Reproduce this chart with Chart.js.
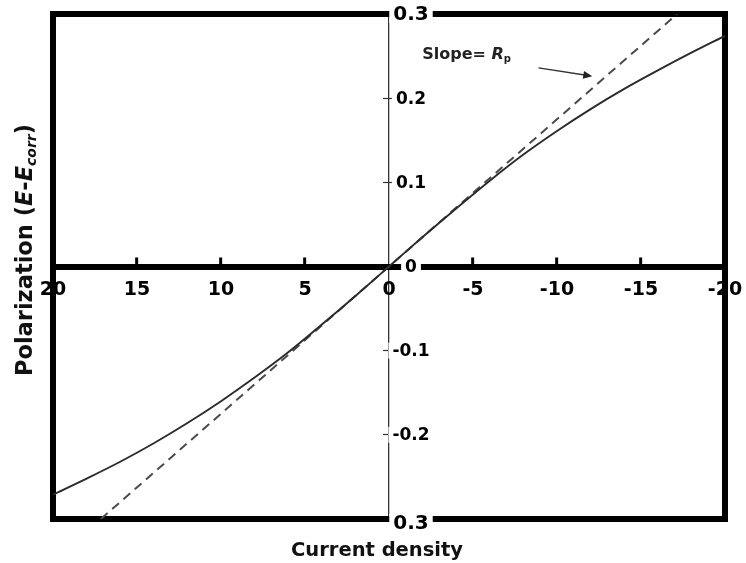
<!DOCTYPE html>
<html>
<head>
<meta charset="utf-8">
<script src="https://cdn.jsdelivr.net/npm/chart.js@4.4.1/dist/chart.umd.min.js"></script>
<style>
  html, body { margin: 0; padding: 0; background: #fff; }
  #wrap { width: 746px; height: 563px; }
</style>
</head>
<body>
<div id="wrap"><canvas id="chart"></canvas></div>
<script>
// polarization curve: current density (reversed x axis) vs E-Ecorr
const currentDensity = [20, 18, 16, 14, 12, 10, 8, 6, 4, 2, 0, -2, -4, -6, -8, -10, -12, -14, -16, -18, -20];
const polarization = [-0.271, -0.252, -0.232, -0.210, -0.186, -0.160, -0.132, -0.102, -0.069, -0.035, 0,
  0.035, 0.069, 0.102, 0.133, 0.161, 0.187, 0.211, 0.233, 0.254, 0.274];

// tangent at the origin (slope = Rp)
const slopeX = [17.15, -17.15];
const slopeY = [-0.3, 0.3];

const xTickValues = [20, 15, 10, 5, 0, -5, -10, -15, -20];
const xTickLabels = ["20", "15", "10", "5", "0", "-5", "-10", "-15", "-20"];
const yTickValues = [0.3, 0.2, 0.1, 0, -0.1, -0.2, -0.3];
const yTickLabels = ["0.3", "0.2", "0.1", "0", "-0.1", "-0.2", "0.3"];

const FONT = "'DejaVu Sans', 'Liberation Sans', sans-serif";
const CLEAR = "rgba(0,0,0,0)";

function xLabel(value) {
  const i = xTickValues.findIndex((v) => Math.abs(v - value) < 1e-6);
  return i >= 0 ? xTickLabels[i] : "";
}

// texte avec plusieurs styles, de gauche a droite
function richWidth(ctx, parts) {
  let w = 0;
  parts.forEach((p) => {
    ctx.font = p.font;
    w += ctx.measureText(p.text).width;
  });
  return w;
}
function drawRich(ctx, parts, x, y) {
  let cx = x;
  parts.forEach((p) => {
    ctx.font = p.font;
    ctx.fillText(p.text, cx, y + (p.dy || 0));
    cx += ctx.measureText(p.text).width;
  });
}

const decorPlugin = {
  id: "decor",
  beforeDatasetsDraw(chart) {
    const { ctx, chartArea } = chart;
    ctx.save();
    ctx.strokeStyle = "#000";
    ctx.lineWidth = 6;
    ctx.strokeRect(chartArea.left, chartArea.top, chartArea.right - chartArea.left, chartArea.bottom - chartArea.top);
    ctx.restore();
  },
  afterDraw(chart) {
    const { ctx } = chart;
    const xs = chart.scales.x;
    const ys = chart.scales.y;
    const axisX = xs.getPixelForValue(0);

    // y tick labels, right of the vertical axis, on a white backdrop
    ctx.save();
    ctx.textAlign = "center";
    ctx.textBaseline = "middle";
    yTickValues.forEach((v, i) => {
      const big = i === 0 || i === yTickValues.length - 1;
      ctx.font = "bold " + (big ? 20 : 17) + "px " + FONT;
      const label = yTickLabels[i];
      const w = ctx.measureText(label).width;
      const h = big ? 16 : 14;
      const cx = axisX + 22;
      const cy = ys.getPixelForValue(v) + (i === yTickValues.length - 1 ? 4 : 0);
      ctx.fillStyle = "#fff";
      ctx.fillRect(cx - w / 2 - 4, cy - h / 2 - 1, w + 8, h + 2);
      ctx.fillStyle = "#000";
      ctx.fillText(label, cx, cy + 1);
    });
    ctx.restore();

    // axis titles
    ctx.save();
    ctx.fillStyle = "#111";
    ctx.textBaseline = "alphabetic";
    ctx.textAlign = "center";
    ctx.font = "bold 19.5px " + FONT;
    ctx.fillText("Current density", 377, 556);

    ctx.textAlign = "left";
    const yTitle = [
      { text: "Polarization (", font: "bold 22.5px " + FONT },
      { text: "E", font: "italic bold 22.5px " + FONT },
      { text: "-", font: "bold 22.5px " + FONT },
      { text: "E", font: "italic bold 22.5px " + FONT },
      { text: "corr", font: "italic bold 14px " + FONT, dy: 4 },
      { text: ")", font: "bold 22.5px " + FONT },
    ];
    ctx.translate(32, 250);
    ctx.rotate(-Math.PI / 2);
    drawRich(ctx, yTitle, -richWidth(ctx, yTitle) / 2, 0);
    ctx.restore();

    // annotation "Slope= Rp" with arrow
    ctx.save();
    ctx.fillStyle = "#222";
    ctx.textAlign = "left";
    ctx.textBaseline = "alphabetic";
    drawRich(ctx, [
      { text: "Slope= ", font: "bold 16px " + FONT },
      { text: "R", font: "italic bold 16px " + FONT },
      { text: "p", font: "bold 10px " + FONT, dy: 3 },
    ], xs.getPixelForValue(-1.98), ys.getPixelForValue(0.247));

    const ax1 = xs.getPixelForValue(-8.9), ay1 = ys.getPixelForValue(0.236);
    const ax2 = xs.getPixelForValue(-12.1), ay2 = ys.getPixelForValue(0.226);
    const ang = Math.atan2(ay2 - ay1, ax2 - ax1);
    ctx.strokeStyle = "#333";
    ctx.fillStyle = "#222";
    ctx.lineWidth = 1.5;
    ctx.beginPath();
    ctx.moveTo(ax1, ay1);
    ctx.lineTo(ax2 - 6 * Math.cos(ang), ay2 - 6 * Math.sin(ang));
    ctx.stroke();
    ctx.beginPath();
    ctx.moveTo(ax2, ay2);
    ctx.lineTo(ax2 - 9 * Math.cos(ang) + 4 * Math.sin(ang), ay2 - 9 * Math.sin(ang) - 4 * Math.cos(ang));
    ctx.lineTo(ax2 - 9 * Math.cos(ang) - 4 * Math.sin(ang), ay2 - 9 * Math.sin(ang) + 4 * Math.cos(ang));
    ctx.closePath();
    ctx.fill();
    ctx.restore();
  },
};

new Chart(document.getElementById("chart"), {
  type: "line",
  data: {
    datasets: [
      {
        label: "Polarization",
        data: currentDensity.map((x, i) => ({ x: x, y: polarization[i] })),
        borderColor: "#2b2b2b",
        borderWidth: 1.9,
        pointRadius: 0,
        cubicInterpolationMode: "monotone",
        fill: false,
        order: 1,
      },
      {
        label: "Slope",
        data: slopeX.map((x, i) => ({ x: x, y: slopeY[i] })),
        borderColor: "#4a4a4a",
        borderWidth: 2,
        borderDash: [9, 6],
        pointRadius: 0,
        fill: false,
        order: 2,
      },
    ],
  },
  options: {
    responsive: true,
    maintainAspectRatio: false,
    animation: false,
    devicePixelRatio: 1,
    layout: { padding: { left: 53, right: 21, top: 14, bottom: 44 } },
    plugins: {
      legend: { display: false },
      tooltip: { enabled: false },
    },
    scales: {
      x: {
        type: "linear",
        min: -20,
        max: 20,
        reverse: true,
        position: { y: 0 },
        // pas de marge supplementaire pour les etiquettes extremes
        afterFit: (scale) => {
          scale.paddingLeft = 0;
          scale.paddingRight = 0;
        },
        border: { display: true, width: 6, color: "#000" },
        grid: {
          drawOnChartArea: true,
          // the vertical axis line is the grid line at 0
          color: (c) => (c.tick && c.tick.value === 0 ? "#333" : CLEAR),
          lineWidth: 1.3,
          tickColor: (c) => {
            const v = c.tick ? Math.abs(c.tick.value) : 0;
            return v === 0 || v === 20 ? CLEAR : "#000";
          },
          tickWidth: 3,
          tickLength: -12.5,
        },
        ticks: {
          stepSize: 5,
          autoSkip: false,
          maxRotation: 0,
          padding: 25,
          color: "#000",
          font: { family: FONT, size: 19, weight: "bold" },
          callback: (value) => xLabel(value),
        },
      },
      y: {
        type: "linear",
        min: -0.3,
        max: 0.3,
        position: { x: -0.36 },
        border: { display: false },
        grid: {
          drawOnChartArea: false,
          tickLength: 12,
          tickWidth: 1.2,
          tickColor: (c) => {
            const v = c.tick ? Math.round(Math.abs(c.tick.value) * 10) : 0;
            return v === 1 || v === 2 ? "#333" : CLEAR;
          },
        },
        ticks: { display: false, stepSize: 0.1 },
      },
    },
  },
  plugins: [decorPlugin],
});
</script>
</body>
</html>
